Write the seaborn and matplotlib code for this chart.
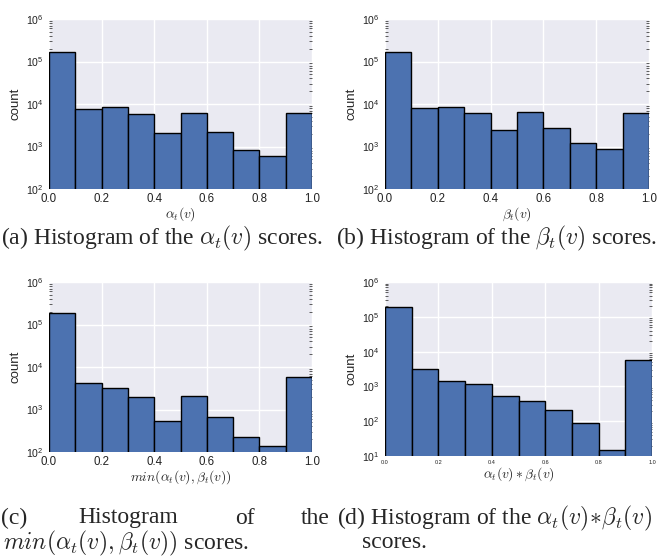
import numpy as np
import matplotlib
matplotlib.use("Agg")
import matplotlib.pyplot as plt
import seaborn as sns
from matplotlib.ticker import LogLocator, FixedLocator

# ---------------- data ----------------
bin_edges = [0.0, 0.1, 0.2, 0.3, 0.4, 0.5, 0.6, 0.7, 0.8, 0.9, 1.0]
counts_alpha = [164000, 7500, 8350, 5800, 2080, 6000, 2150, 810, 590, 6100]
counts_beta = [164000, 7900, 8650, 6000, 2490, 6350, 2770, 1190, 860, 6100]
counts_min = [182000, 4200, 3250, 1990, 550, 2100, 670, 230, 141, 5800]
counts_prod = [187000, 3150, 1450, 1170, 537, 386, 203, 90, 15, 5900]
xtick_vals = [0.0, 0.2, 0.4, 0.6, 0.8, 1.0]

xlabels = [r"$\alpha_t(v)$", r"$\beta_t(v)$",
           r"$min(\alpha_t(v),\beta_t(v))$", r"$\alpha_t(v)\ast\beta_t(v)$"]

sns.set_style("darkgrid", {"axes.facecolor": "#EAEAF2"})
plt.rcParams["font.family"] = ["Liberation Sans", "DejaVu Sans"]
plt.rcParams["mathtext.fontset"] = "cm"

fig = plt.figure(figsize=(6.72, 5.56), dpi=100)
W, H = 672, 556

def ax_at(l, t, r, b):
    return fig.add_axes([l / W, 1 - b / H, (r - l) / W, (b - t) / H])

axes_specs = [
    (49, 19, 312, 189, counts_alpha, (1e2, 1e6), 8.3),
    (385, 19, 649, 189, counts_beta, (1e2, 1e6), 8.3),
    (49, 282, 312, 452, counts_min, (1e2, 1e6), 8.3),
    (385, 282, 652, 456, counts_prod, (1e1, 1e6), 4.0),
]

centers = [(bin_edges[i] + bin_edges[i + 1]) / 2 for i in range(len(bin_edges) - 1)]

for i, (l, t, r, b, cnts, ylim, xts) in enumerate(axes_specs):
    ax = ax_at(l, t, r, b)
    sns.histplot(x=centers, weights=cnts, bins=bin_edges, ax=ax,
                 color="#4C72B0", alpha=1.0, edgecolor="black", linewidth=1.0)
    ax.set_yscale("log")
    ax.set_ylim(*ylim)
    ax.set_xlim(0, 1)
    ax.xaxis.set_major_locator(FixedLocator(xtick_vals))
    ax.set_xticklabels([f"{v:.1f}" for v in xtick_vals])
    ax.yaxis.set_major_locator(LogLocator(base=10))
    ax.yaxis.set_minor_locator(LogLocator(base=10, subs=np.arange(2, 10)))
    ax.yaxis.set_minor_formatter(plt.NullFormatter())
    ax.tick_params(axis="x", labelsize=xts, length=0, pad=3, labelcolor="#222222")
    ax.tick_params(axis="y", which="major", labelsize=7.6, length=0, pad=4,
                   labelcolor="#222222")
    ax.tick_params(axis="y", which="minor", direction="in", length=2.0,
                   width=0.6, color="#444444", left=True, right=True)
    ax.set_ylabel("count", fontsize=9.5, labelpad=3)
    ax.set_xlabel(xlabels[i], fontsize=9.8, labelpad=0)
    ax.grid(True, which="major", color="white", linewidth=1.0)
    ax.grid(False, which="minor")
    for s in ax.spines.values():
        s.set_visible(False)

cap = dict(fontsize=17.0, family=["Liberation Serif", "DejaVu Serif"],
           math_fontfamily="cm", va="center")

def ftxt(x, y, s, ha="left"):
    fig.text(x / W, 1 - y / H, s, ha=ha, **cap)

ftxt(1, 238, r"(a) Histogram of the $\alpha_t(v)$ scores.")
ftxt(336, 238, r"(b) Histogram of the $\beta_t(v)$ scores.")
# (c) justified first line
ftxt(1, 518, "(c)")
ftxt(78, 518, "Histogram")
ftxt(235, 518, "of")
ftxt(330, 518, "the", ha="right")
ftxt(3, 543, r"$min(\alpha_t(v),\beta_t(v))$ scores.")
ftxt(337, 518, r"(d) Histogram of the $\alpha_t(v)\!\ast\!\beta_t(v)$")
ftxt(362, 543, "scores.")

fig.savefig("out.png", dpi=100)
